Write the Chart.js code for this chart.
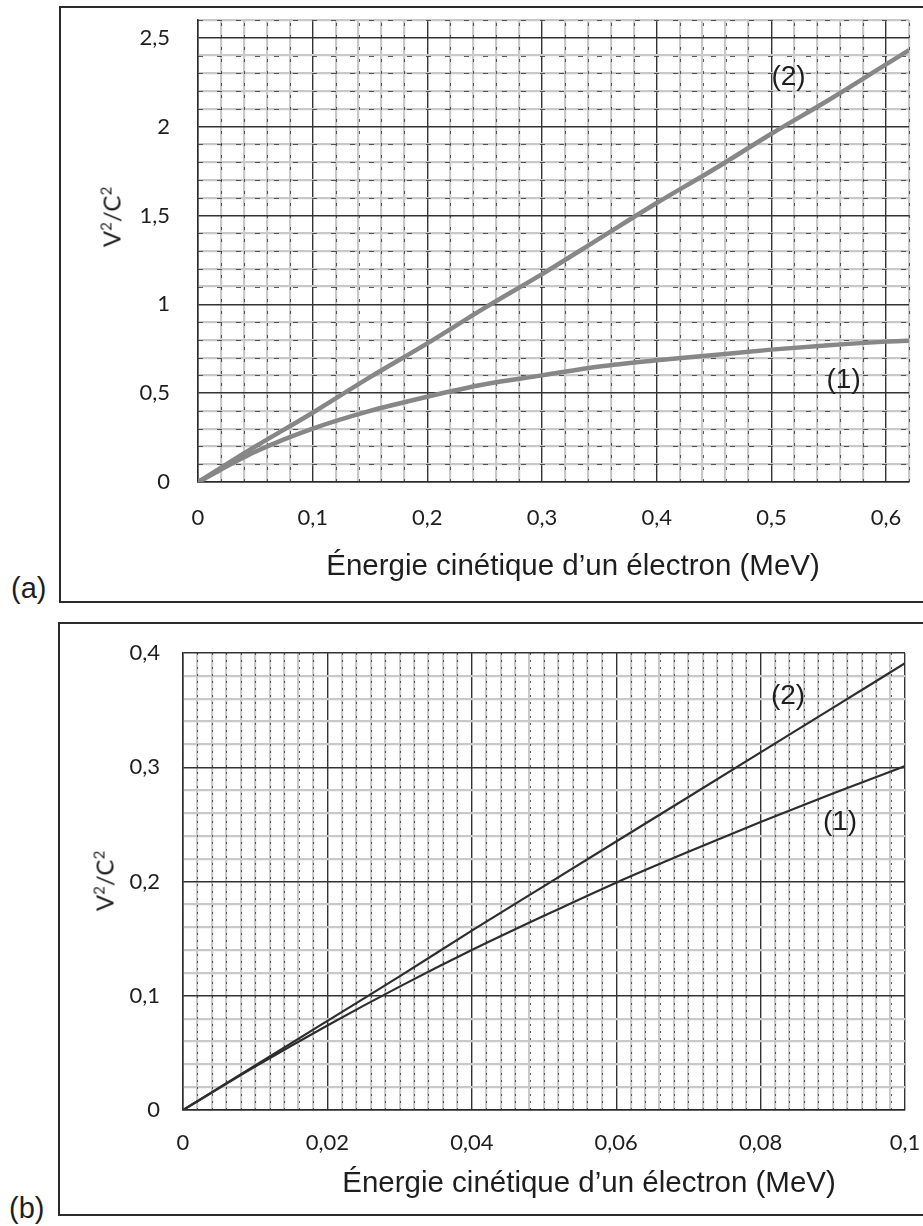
<!DOCTYPE html>
<html>
<head>
<meta charset="utf-8">
<script src="https://cdn.jsdelivr.net/npm/chart.js@4.4.1/dist/chart.umd.min.js"></script>
<style>
  html, body { margin: 0; padding: 0; background: #fff; }
  body { position: relative; width: 923px; height: 1226px; overflow: hidden; }
  .frame { position: absolute; border: 2px solid #2b2b2b; box-sizing: border-box; }
  .chart { position: absolute; }
  .txt { position: absolute; font-family: "Liberation Sans", Arial, sans-serif; color: #1e1e1e; white-space: nowrap; }
  .ytitle { position: absolute; font-family: Lato, sans-serif; color: #1e1e1e; font-size: 24px; white-space: nowrap; transform: translate(-50%, -50%) rotate(-90deg); }
  .ytitle sup { font-size: 15px; }
  .xtitle { transform: translate(-50%, -50%); font-size: 29.5px; }
  .panel { font-size: 29px; transform: translateY(-50%); }
</style>
</head>
<body>

<div class="frame" style="left:59px; top:6px; width:920px; height:597px;"></div>
<div class="frame" style="left:58px; top:622px; width:920px; height:594px;"></div>

<div class="chart" style="left:60px; top:7px;"><canvas id="chart-a" width="863" height="595"></canvas></div>
<div class="chart" style="left:60px; top:623px;"><canvas id="chart-b" width="863" height="592"></canvas></div>

<div class="txt xtitle" style="left:573px; top:565px;">Énergie cinétique d’un électron (MeV)</div>
<div class="txt xtitle" style="left:589px; top:1182px;">Énergie cinétique d’un électron (MeV)</div>
<div class="ytitle" style="left:111px; top:217px;">V<sup>2</sup>/C<sup>2</sup></div>
<div class="ytitle" style="left:104px; top:881px;">V<sup>2</sup>/C<sup>2</sup></div>
<div class="txt panel" style="left:11px; top:588px;">(a)</div>
<div class="txt panel" style="left:9px; top:1208px;">(b)</div>

<script>
// (a) full range
const energyA = [0, 0.05, 0.1, 0.15, 0.2, 0.25, 0.3, 0.35, 0.4, 0.45, 0.5, 0.55, 0.6, 0.62];
const curve1A = [0, 0.17, 0.30, 0.40, 0.48, 0.55, 0.60, 0.65, 0.685, 0.715, 0.745, 0.77, 0.79, 0.795];
const curve2A = [0, 0.20, 0.39, 0.59, 0.78, 0.98, 1.17, 1.37, 1.57, 1.76, 1.96, 2.15, 2.35, 2.43];
const xLabelsA = [0, 0.1, 0.2, 0.3, 0.4, 0.5, 0.6];
const yLabelsA = [0, 0.5, 1, 1.5, 2, 2.5];

// (b) zoom on low energies
const energyB = [0, 0.01, 0.02, 0.03, 0.04, 0.05, 0.06, 0.07, 0.08, 0.09, 0.1];
const curve1B = [0, 0.038, 0.074, 0.108, 0.14, 0.17, 0.199, 0.226, 0.252, 0.277, 0.301];
const curve2B = [0, 0.039, 0.078, 0.117, 0.157, 0.196, 0.235, 0.274, 0.313, 0.352, 0.391];
const xLabelsB = [0, 0.02, 0.04, 0.06, 0.08, 0.1];
const yLabelsB = [0, 0.1, 0.2, 0.3, 0.4];

// curve names, placed in data units
const namesA = [
  { text: "(2)", x: 0.515, y: 2.275 },
  { text: "(1)", x: 0.563, y: 0.573 },
];
const namesB = [
  { text: "(2)", x: 0.0838, y: 0.362 },
  { text: "(1)", x: 0.091, y: 0.252 },
];

Chart.defaults.font.family = "Lato, 'Open Sans', sans-serif";
Chart.defaults.color = "#1e1e1e";

const inList = (list, v) => list.some((t) => Math.abs(t - v) < 1e-9);
const fmt = (v) => String(+v.toFixed(4)).replace(".", ",");
const toPoints = (xs, ys) => xs.map((x, i) => ({ x, y: ys[i] }));

// dark dashes on top of the grey minor lines, like the scanned graph paper
const dashPlugin = (cfg) => ({
  id: "paperDashes",
  beforeDatasetsDraw(chart) {
    const { ctx, chartArea: a, scales } = chart;
    ctx.save();
    ctx.strokeStyle = "rgba(40,40,40,0.75)";
    ctx.lineWidth = 1;
    ctx.setLineDash(cfg.xDash);
    scales.x.ticks.forEach((t) => {
      if (inList(cfg.xLabels, t.value)) return;
      const px = Math.round(scales.x.getPixelForValue(t.value)) + 0.5;
      ctx.beginPath();
      ctx.moveTo(px, a.bottom);
      ctx.lineTo(px, a.top);
      ctx.stroke();
    });
    if (cfg.yDash) {
      ctx.setLineDash(cfg.yDash);
      scales.y.ticks.forEach((t) => {
        if (inList(cfg.yLabels, t.value)) return;
        const py = Math.round(scales.y.getPixelForValue(t.value)) + 0.5;
        ctx.beginPath();
        ctx.moveTo(a.left, py);
        ctx.lineTo(a.right, py);
        ctx.stroke();
      });
    }
    ctx.restore();
  },
});

const namePlugin = (names) => ({
  id: "curveNames",
  afterDatasetsDraw(chart) {
    const { ctx, scales } = chart;
    ctx.save();
    ctx.font = "28px 'Liberation Sans', Arial, sans-serif";
    ctx.fillStyle = "#1e1e1e";
    ctx.textAlign = "center";
    ctx.textBaseline = "middle";
    names.forEach((n) => {
      ctx.fillText(n.text, scales.x.getPixelForValue(n.x), scales.y.getPixelForValue(n.y));
    });
    ctx.restore();
  },
});

const makeChart = (el, cfg) => {
  const majorX = (v) => inList(cfg.xLabels, v);
  const majorY = (v) => inList(cfg.yLabels, v);
  return new Chart(el, {
    type: "scatter",
    data: {
      datasets: cfg.series.map((s) => ({
        data: s,
        showLine: true,
        pointRadius: 0,
        borderColor: cfg.lineColor,
        borderWidth: cfg.lineWidth,
        cubicInterpolationMode: "monotone",
      })),
    },
    options: {
      responsive: false,
      animation: false,
      events: [],
      layout: { padding: cfg.padding },
      plugins: { legend: { display: false }, tooltip: { enabled: false } },
      scales: {
        x: {
          type: "linear",
          min: 0,
          max: cfg.xMax,
          afterFit: (s) => {
            s.height = cfg.xAxisHeight;
            s.paddingLeft = 0;
            s.paddingRight = 0;
          },
          ticks: {
            stepSize: cfg.xStep,
            autoSkip: false,
            maxRotation: 0,
            padding: cfg.xTickPad,
            font: { size: 22 },
            callback: (v) => (majorX(v) ? fmt(v) : ""),
          },
          grid: {
            drawTicks: false,
            color: (c) => (majorX(c.tick.value) ? "#333" : "#c9c9c9"),
            lineWidth: (c) => (majorX(c.tick.value) ? 1.4 : 2.2),
          },
          border: { color: "#2b2b2b", width: 1.5 },
        },
        y: {
          type: "linear",
          min: 0,
          max: cfg.yMax,
          afterFit: (s) => {
            s.width = cfg.yAxisWidth;
            s.paddingTop = 0;
            s.paddingBottom = 0;
          },
          ticks: {
            stepSize: cfg.yStep,
            autoSkip: false,
            padding: cfg.yTickPad,
            font: { size: 22 },
            callback: (v) => (majorY(v) ? fmt(v) : ""),
          },
          grid: {
            drawTicks: false,
            color: (c) => (majorY(c.tick.value) ? "#333" : "#c9c9c9"),
            lineWidth: (c) => (majorY(c.tick.value) ? 1.4 : 2.2),
          },
          border: { color: "#2b2b2b", width: 1.5 },
        },
      },
    },
    plugins: [dashPlugin(cfg), namePlugin(cfg.names)],
  });
};

makeChart(document.getElementById("chart-a"), {
  series: [toPoints(energyA, curve1A), toPoints(energyA, curve2A)],
  xLabels: xLabelsA,
  yLabels: yLabelsA,
  names: namesA,
  xMax: 0.62,
  yMax: 2.6,
  xStep: 0.02,
  yStep: 0.1,
  xDash: [3, 9],
  yDash: [5, 14],
  lineColor: "#878787",
  lineWidth: 4.5,
  padding: { top: 13, right: 14, left: 0, bottom: 0 },
  xAxisHeight: 120,
  yAxisWidth: 138,
  xTickPad: 23,
  yTickPad: 28,
});

makeChart(document.getElementById("chart-b"), {
  series: [toPoints(energyB, curve1B), toPoints(energyB, curve2B)],
  xLabels: xLabelsB,
  yLabels: yLabelsB,
  names: namesB,
  xMax: 0.1,
  yMax: 0.4,
  xStep: 0.002,
  yStep: 0.02,
  xDash: [2, 5],
  yDash: null,
  lineColor: "#2e2e2e",
  lineWidth: 2.2,
  padding: { top: 30, right: 18, left: 0, bottom: 0 },
  xAxisHeight: 105,
  yAxisWidth: 123,
  xTickPad: 20,
  yTickPad: 23,
});
</script>
</body>
</html>
